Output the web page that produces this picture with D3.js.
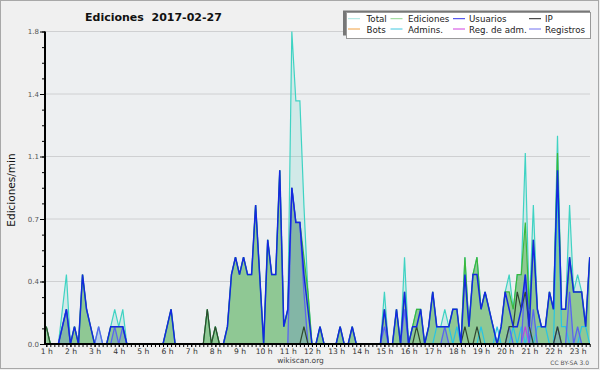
<!DOCTYPE html>
<html><head><meta charset="utf-8">
<script src="https://cdn.jsdelivr.net/npm/d3@7/dist/d3.min.js"></script>
<style>body{margin:0;background:#f0f0f0}svg{display:block}</style>
</head><body><svg id="c" width="600" height="370"></svg>
<script>
const title = "Ediciones  2017-02-27";
const yTitle = "Ediciones/min";
const startMinute = 60, stepMinute = 10;   // first bin 1:00, 10-minute bins
const hourTicks = [1,2,3,4,5,6,7,8,9,10,11,12,13,14,15,16,17,18,19,20,21,22,23];
const yTickValues = [0, 0.36, 0.72, 1.08, 1.44, 1.8];
const yTickLabels = ["0.0","0.4","0.7","1.1","1.4","1.8"];
const legendNames = ["Total","Ediciones","Usuarios","IP","Bots","Admins.","Reg. de adm.","Registros"];

const total = [0.1,0,0,0,0.2,0.4,0,0.1,0,0.4, 0.2,0.1,0,0.1,0,0,0.1,0.2,0.1,0.2, 0,0,0,0,0,0,0,0,0,0,
 0.1,0.2,0,0,0,0,0,0,0,0, 0.2,0,0.1,0,0,0.1,0.4,0.5,0.4,0.5, 0.4,0.4,0.8,0.4,0,0.6,0.4,0.4,1.0,0.1,
 0.2,1.8,1.4,1.4,0.8,0.3,0,0,0.1,0, 0,0,0,0.1,0,0,0.1,0,0,0, 0,0,0,0,0.3,0,0,0.2,0,0.5,
 0,0.1,0.2,0.2,0,0.1,0.3,0.1,0.1,0.2, 0.1,0.2,0.2,0,0.5,0.1,0.4,0.5,0.2,0.3, 0.2,0.1,0,0.1,0.3,0.4,0.2,0.4,0.4,1.1,
 0.2,0.8,0.2,0.1,0.1,0.3,0.2,1.2,0.2,0.2, 0.8,0.3,0.4,0.3,0.1,0.5];
const ediciones = [0.1,0,0,0,0.1,0.2,0,0.1,0,0.4, 0.2,0.1,0,0,0,0,0.1,0.1,0.1,0.1, 0,0,0,0,0,0,0,0,0,0,
 0.1,0.2,0,0,0,0,0,0,0,0, 0.2,0,0.1,0,0,0.1,0.4,0.5,0.4,0.5, 0.4,0.4,0.8,0.4,0,0.6,0.4,0.4,1.0,0.1,
 0.2,0.9,0.7,0.7,0.5,0.3,0,0,0.1,0, 0,0,0,0.1,0,0,0.1,0,0,0, 0,0,0,0,0.2,0,0,0.2,0,0.3,
 0,0.1,0.2,0.2,0,0.1,0.3,0.1,0.1,0.1, 0.1,0.2,0.2,0,0.5,0.1,0.4,0.5,0.2,0.3, 0.2,0.1,0,0.1,0.3,0.3,0.2,0.4,0.4,0.7,
 0.2,0.6,0.2,0.1,0.1,0.3,0.2,1.1,0.2,0.2, 0.5,0.3,0.3,0.3,0.1,0.5];
const usuarios = [0,0,0,0,0.1,0.2,0,0.1,0,0.4, 0.2,0.1,0,0,0,0,0.1,0.1,0.1,0.1, 0,0,0,0,0,0,0,0,0,0,
 0.1,0.2,0,0,0,0,0,0,0,0, 0,0,0,0,0,0.1,0.4,0.5,0.4,0.5, 0.4,0.4,0.8,0.4,0,0.6,0.4,0.4,1.0,0.1,
 0.2,0.9,0.7,0.7,0.4,0.2,0,0,0.1,0, 0,0,0,0.1,0,0,0.1,0,0,0, 0,0,0,0,0.2,0,0,0.2,0,0.3,
 0,0.1,0.1,0.2,0,0.1,0.3,0.1,0.1,0.1, 0.1,0.2,0.2,0,0.4,0.1,0.4,0.4,0.2,0.3, 0.2,0.1,0,0.1,0.3,0.2,0.1,0.1,0.2,0.4,
 0.1,0.6,0.2,0.1,0.1,0.3,0.2,1.0,0.2,0.2, 0.5,0.3,0.3,0.3,0.1,0.5];
const ip = [0.1,0,0,0,0,0,0,0,0,0, 0,0,0,0,0,0,0,0,0,0, 0,0,0,0,0,0,0,0,0,0,
 0,0,0,0,0,0,0,0,0,0, 0.2,0,0.1,0,0,0,0,0,0,0, 0,0,0,0,0,0,0,0,0,0,
 0,0,0,0,0.1,0,0,0,0,0, 0,0,0,0,0,0,0,0,0,0, 0,0,0,0,0,0,0,0,0,0,
 0,0,0.1,0,0,0,0,0,0,0, 0,0,0,0,0.1,0,0,0.1,0,0, 0,0,0,0,0,0.1,0.1,0.3,0.2,0.3,
 0.1,0,0,0,0,0,0,0.1,0,0, 0,0,0,0,0,0];
const bots = [0,0,0,0,0,0,0,0,0,0, 0,0,0,0,0,0,0,0,0,0, 0,0,0,0,0,0,0,0,0,0,
 0,0,0,0,0,0,0,0,0,0, 0,0,0,0,0,0,0,0,0,0, 0,0,0,0,0,0,0,0,0,0,
 0,0,0,0,0,0,0,0,0,0, 0,0,0,0,0,0,0,0,0,0, 0,0,0,0,0,0,0,0,0,0,
 0,0,0,0,0,0,0,0,0,0, 0,0,0,0,0,0,0,0,0,0, 0,0,0,0,0,0,0,0,0,0,
 0,0,0,0,0,0,0,0,0,0, 0,0,0,0,0,0];
const admins = [0,0,0,0,0,0,0,0,0,0, 0,0,0,0,0,0,0,0,0,0, 0,0,0,0,0,0,0,0,0,0,
 0,0,0,0,0,0,0,0,0,0, 0,0,0,0,0,0,0,0,0,0, 0,0,0,0,0,0,0,0,0,0,
 0,0,0,0,0,0,0,0,0,0, 0,0,0,0,0,0,0,0,0,0, 0,0,0,0,0,0,0,0,0,0,
 0,0,0,0,0,0,0,0.1,0.1,0.1, 0.1,0,0.1,0,0,0,0,0,0.1,0, 0,0,0.1,0,0,0,0.1,0,0.1,0,
 0.1,0,0.1,0.1,0.1,0,0,0.9,0.1,0.1, 0,0,0,0.1,0.1,0];
const regAdm = [0,0,0,0,0,0,0,0,0,0, 0,0,0,0,0,0,0,0,0,0, 0,0,0,0,0,0,0,0,0,0,
 0,0,0,0,0,0,0,0,0,0, 0,0,0,0,0,0,0,0,0,0, 0,0,0,0,0,0,0,0,0,0,
 0,0,0,0,0,0,0,0,0,0, 0,0,0,0,0,0,0,0,0,0, 0,0,0,0,0,0,0,0,0,0,
 0,0,0,0,0,0,0,0,0,0, 0,0,0,0,0,0,0,0,0,0, 0,0,0,0,0,0,0,0,0,0.1,
 0,0,0,0,0,0,0,0,0,0, 0,0,0,0,0,0];
const registros = [0,0,0,0,0.1,0.2,0,0,0,0, 0,0,0,0.1,0,0,0,0.1,0,0.1, 0,0,0,0,0,0,0,0,0,0,
 0,0,0,0,0,0,0,0,0,0, 0,0,0,0,0,0,0,0,0,0, 0,0,0,0,0,0,0,0,0,0,
 0,0.9,0.7,0.7,0.3,0,0,0,0,0, 0,0,0,0,0,0,0,0,0,0, 0,0,0,0,0.1,0,0,0,0,0.2,
 0,0,0,0,0,0,0,0,0,0.1, 0,0,0,0,0,0,0,0,0,0, 0,0,0,0,0,0.1,0,0,0,0.4,
 0,0.2,0,0,0,0,0,0.1,0,0, 0.3,0,0.1,0,0,0];

const svg = d3.select("#c");
const W = 600, H = 370;
const L = 45, R = 590, T = 31.5, B = 344;
svg.append("rect").attr("width",W).attr("height",H).attr("fill","#f0f0f0");
svg.append("rect").attr("x",0.5).attr("y",0.5).attr("width",598).attr("height",368).attr("fill","none").attr("stroke","#a8a8a8");
svg.append("rect").attr("x",L).attr("y",T).attr("width",R-L).attr("height",B-T).attr("fill","#edeff1");

const tMin = i => startMinute + i*stepMinute;
const x = d3.scaleLinear().domain([tMin(0), tMin(total.length-1)]).range([46.3, 589.7]);
const y = d3.scaleLinear().domain([0, 1.8]).range([B, T]);

// grid
svg.append("g").selectAll("line").data(yTickValues.slice(1)).join("line")
  .attr("x1",L).attr("x2",R).attr("y1",d=>y(d)).attr("y2",d=>y(d))
  .attr("stroke","#cfd0d2").attr("stroke-width",1);

svg.append("defs").append("clipPath").attr("id","pc").append("rect")
  .attr("x",L).attr("y",T-3).attr("width",R-L).attr("height",B-T+3);
const plot = svg.append("g").attr("clip-path","url(#pc)");

const area = d3.area().x((d,i)=>x(tMin(i))).y0(B).y1(d=>y(d));
const line = d3.line().x((d,i)=>x(tMin(i))).y(d=>y(d));

plot.append("path").attr("d",area(total)).attr("fill","rgba(70,210,190,0.17)");
plot.append("path").attr("d",area(ediciones)).attr("fill","rgb(143,200,148)");
plot.append("path").attr("d",area(registros)).attr("fill","rgba(90,120,230,0.22)");

const series = [
  {d: total, c: "#3fd3c3", w: 1.2},
  {d: ediciones, c: "#3cb83c", w: 1.2},
  {d: bots, c: "#f0a040", w: 1.2, hidden:true},
  {d: admins, c: "#28c4e4", w: 1.2},
  {d: regAdm, c: "#c040e0", w: 1.2},
  {d: registros, c: "#5a64f0", w: 1.3},
  {d: ip, c: "#304830", w: 1.2},
  {d: usuarios, c: "#1428e0", w: 1.5}
];
series.forEach(s=>{
  if (s.hidden) return;
  plot.append("path").attr("d",line(s.d)).attr("fill","none").attr("stroke",s.c)
    .attr("stroke-width",s.w).attr("stroke-linejoin","miter");
});

// y axis
const yAxis = d3.axisLeft(y).tickValues(yTickValues).tickFormat((d,i)=>yTickLabels[i]).tickSize(5).tickPadding(1);
const yg = svg.append("g").attr("transform",`translate(${L},0)`).call(yAxis);
const yMinor = [];
for (let k=0;k<=20;k++) yMinor.push(k*0.09);
svg.append("g").attr("transform",`translate(${L},0)`)
  .call(d3.axisLeft(y).tickValues(yMinor).tickSize(3).tickFormat(""))
  .call(g=>g.select(".domain").remove());
yg.select(".domain").attr("stroke","#000").attr("stroke-width",2).attr("d",`M0,${T}V${B}`);
yg.selectAll("text").attr("font-family","DejaVu Sans").attr("font-size","7px").attr("fill","#555");

// x axis
const xMinor = total.map((d,i)=>tMin(i));
svg.append("g").attr("transform",`translate(0,${B})`)
  .call(d3.axisBottom(x).tickValues(xMinor).tickSize(3).tickFormat(""))
  .call(g=>g.select(".domain").remove())
  .selectAll("line").attr("stroke","#000");
const xg = svg.append("g").attr("transform",`translate(0,${B})`)
  .call(d3.axisBottom(x).tickValues(hourTicks.map(h=>h*60)).tickFormat(d=>(d/60)+" h").tickSize(3).tickPadding(2));
xg.select(".domain").attr("stroke","#000").attr("stroke-width",2).attr("d",`M${L},0H${R}`);
xg.selectAll("text").attr("font-family","DejaVu Sans").attr("font-size","7.6px").attr("fill","#333");

// titles
svg.append("text").attr("x",85).attr("y",21).attr("font-family","DejaVu Sans").attr("font-weight","bold")
  .attr("font-size","11px").attr("fill","#111").style("white-space","pre").text(title);
svg.append("text").attr("transform","translate(15,190) rotate(-90)").attr("text-anchor","middle")
  .attr("font-family","DejaVu Sans").attr("font-size","10.5px").attr("fill","#111").text(yTitle);
svg.append("text").attr("x",300.5).attr("y",363).attr("text-anchor","middle").attr("font-family","DejaVu Sans")
  .attr("font-size","7.5px").attr("fill","#444").text("wikiscan.org");
svg.append("text").attr("x",589).attr("y",364.5).attr("text-anchor","end").attr("font-family","DejaVu Sans")
  .attr("font-size","6px").attr("fill","#555").text("CC BY-SA 3.0");

// legend
const legColors = ["#a8e6e0","#90d690","#3030e8","#222","#f0a040","#40c8e0","#d040e0","#7070f0"];
const lg = svg.append("g");
lg.append("rect").attr("x",343).attr("y",10.5).attr("width",247).attr("height",25).attr("fill","#777");
lg.append("rect").attr("x",346.5).attr("y",12.5).attr("width",244).attr("height",26).attr("fill","#fff").attr("stroke","#999");
const colX = [348, 390.5, 453, 529];
const textX = [366.5, 408, 469, 545];
legendNames.forEach((n,i)=>{
  const c = i%4, r = Math.floor(i/4);
  const yy = 18.7 + r*10.3;
  lg.append("line").attr("x1",colX[c]).attr("x2",colX[c]+12).attr("y1",yy).attr("y2",yy).attr("stroke",legColors[i]).attr("stroke-width",1);
  lg.append("text").attr("x",textX[c]).attr("y",yy+3.7).attr("font-family","DejaVu Sans").attr("font-size","8.7px").attr("fill","#222").text(n);
});
</script></body></html>
